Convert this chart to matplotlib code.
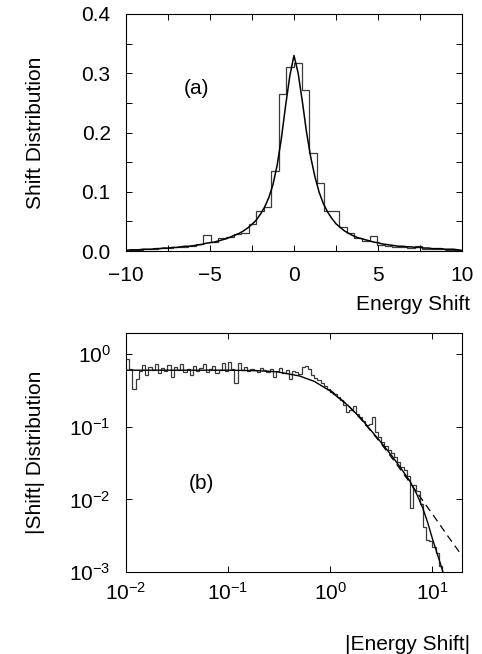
import numpy as np
import matplotlib
matplotlib.use("Agg")
import matplotlib.pyplot as plt
from matplotlib.ticker import MultipleLocator, LogLocator, NullLocator

plt.rcParams['font.family'] = ['Liberation Sans', 'DejaVu Sans']
plt.rcParams['mathtext.fontset'] = 'custom'
plt.rcParams['mathtext.rm'] = 'Liberation Sans'
plt.rcParams['mathtext.it'] = 'Liberation Sans:italic'

# ---------------- panel (a) data ----------------
# smooth (fine) distribution, sampled every 0.25 from -10 to 10
curve_a_x = np.linspace(-10, 10, 81)
curve_a_left = [0.001, 0.002, 0.002, 0.002, 0.003, 0.003, 0.003, 0.004, 0.004, 0.005,
                0.005, 0.006, 0.006, 0.007, 0.008, 0.008, 0.009, 0.010, 0.011, 0.013,
                0.014, 0.015, 0.017, 0.019, 0.021, 0.024, 0.027, 0.030, 0.034, 0.039,
                0.045, 0.052, 0.062, 0.074, 0.090, 0.112, 0.145, 0.190, 0.245, 0.295]
curve_a_center = [0.330]
curve_a_right = [0.300, 0.252, 0.200, 0.158, 0.125, 0.099, 0.080, 0.066, 0.055, 0.046,
                 0.040, 0.034, 0.030, 0.026, 0.023, 0.021, 0.019, 0.017, 0.015, 0.014,
                 0.012, 0.011, 0.010, 0.009, 0.008, 0.008, 0.007, 0.007, 0.006, 0.006,
                 0.005, 0.005, 0.004, 0.004, 0.004, 0.003, 0.003, 0.003, 0.002, 0.001]
curve_a_y = curve_a_left + curve_a_center + curve_a_right

# coarse histogram, bin width 0.45 from -9.9 to 9.9
hist_a_edges = np.linspace(-9.9, 9.9, 45)
hist_a_left = [0.002, 0.002, 0.003, 0.003, 0.005, 0.005, 0.006, 0.007, 0.009, 0.012,
               0.027, 0.016, 0.022, 0.023, 0.028, 0.030, 0.045, 0.068, 0.075, 0.135,
               0.265, 0.310]
hist_a_right = [0.317, 0.271, 0.166, 0.115, 0.068, 0.068, 0.040, 0.030, 0.022, 0.017,
                0.026, 0.010, 0.008, 0.007, 0.006, 0.005, 0.008, 0.004, 0.003, 0.003,
                0.002, 0.001]
hist_a_vals = hist_a_left + hist_a_right

# ---------------- panel (b) data ----------------
hist_b_edges = np.logspace(-2, -2 + 100 * 0.03125, 101)
hist_b_vals = [
    # 0.01 - 0.1
    0.85, 0.62, 0.33, 0.45, 0.58, 0.70, 0.52, 0.66, 0.61, 0.72, 0.55, 0.64, 0.58, 0.70, 0.49, 0.66,
    0.60, 0.72, 0.56, 0.63, 0.52, 0.68, 0.59, 0.65, 0.74, 0.57, 0.62, 0.69, 0.55, 0.61, 0.75, 0.58,
    # 0.1 - 1
    0.78, 0.62, 0.40, 0.75, 0.60, 0.66, 0.58, 0.63, 0.61, 0.57, 0.65, 0.60, 0.56, 0.62, 0.48, 0.59,
    0.64, 0.55, 0.60, 0.46, 0.58, 0.57, 0.54, 0.66, 0.68, 0.62, 0.52, 0.47, 0.44, 0.40, 0.36, 0.33,
    # 1 - 10
    0.30, 0.28, 0.26, 0.23, 0.20, 0.16, 0.17, 0.19, 0.15, 0.135, 0.12, 0.105, 0.11, 0.135, 0.085, 0.072,
    0.062, 0.055, 0.048, 0.044, 0.038, 0.033, 0.028, 0.025, 0.021, 0.0075, 0.016, 0.013, 0.0085, 0.0042,
    0.0028, 0.0027,
    # 10 - 13.3
    0.0022, 0.0018, 0.0012, 0.0009]

smooth_b_x = [0.01, 0.03, 0.1, 0.2, 0.3, 0.5, 0.7, 1.0, 1.5, 2.0, 3.0, 4.0, 5.0, 6.0,
              7.0, 8.0, 9.0, 10.0, 11.0, 12.0, 13.0, 13.6]
smooth_b_y = [0.60, 0.60, 0.60, 0.59, 0.57, 0.50, 0.42, 0.31, 0.195, 0.13, 0.066, 0.040,
              0.026, 0.018, 0.012, 0.0078, 0.0048, 0.0029, 0.0019, 0.0013, 0.0009, 0.0006]

fit_b_x = [1.0, 1.5, 2.0, 3.0, 4.0, 5.0, 7.0, 10.0, 14.0, 20.0]
fit_b_y = [0.32, 0.196, 0.127, 0.064, 0.0375, 0.0245, 0.0127, 0.0063, 0.0032, 0.0016]

# ---------------- figure ----------------
fig = plt.figure(figsize=(4.82, 6.54), dpi=100)
ax1 = fig.add_axes([0.2614, 0.6162, 0.697, 0.3624])
ax2 = fig.add_axes([0.2614, 0.1254, 0.697, 0.3654])

hist_col = '#3a3a3a'
FS = 15

# panel (a)
ax1.stairs(hist_a_vals, hist_a_edges, color=hist_col, lw=0.9, baseline=None)
ax1.plot(curve_a_x, curve_a_y, color='black', lw=1.1)
ax1.set_xlim(-10, 10)
ax1.set_ylim(0, 0.4)
ax1.xaxis.set_major_locator(MultipleLocator(5))
ax1.xaxis.set_minor_locator(MultipleLocator(2.5))
ax1.yaxis.set_major_locator(MultipleLocator(0.1))
ax1.yaxis.set_minor_locator(MultipleLocator(0.05))
ax1.yaxis.set_major_formatter(matplotlib.ticker.FormatStrFormatter('%.1f'))
ax1.tick_params(which='both', direction='in', top=True, right=True, labelsize=FS)
ax1.tick_params(axis='y', pad=11)
ax1.tick_params(axis='x', pad=11)
ax1.tick_params(which='major', length=4, width=0.7)
ax1.tick_params(which='minor', length=4, width=0.7)
ax1.set_ylabel('Shift Distribution', fontsize=FS)
ax1.yaxis.set_label_coords(-0.24, 0.5)
ax1.set_xlabel('Energy Shift', fontsize=FS, loc='right')
ax1.xaxis.set_label_coords(1.025, -0.185)
ax1.text(-5.8, 0.275, '(a)', fontsize=FS, ha='center', va='center')

# panel (b)
ax2.stairs(hist_b_vals, hist_b_edges, color=hist_col, lw=0.9, baseline=None)
ax2.plot(smooth_b_x, smooth_b_y, color='black', lw=1.0)
ax2.plot(fit_b_x, fit_b_y, color='black', lw=0.9, ls=(0, (6, 4)))
ax2.set_xscale('log')
ax2.set_yscale('log')
ax2.set_xlim(0.01, 19.5)
ax2.set_ylim(1e-3, 1.95)
ax2.xaxis.set_major_locator(LogLocator(base=10, numticks=10))
ax2.yaxis.set_major_locator(LogLocator(base=10, numticks=10))
ax2.xaxis.set_minor_locator(NullLocator())
ax2.yaxis.set_minor_locator(NullLocator())
ax2.tick_params(which='both', direction='in', top=True, right=True, labelsize=FS)
ax2.tick_params(axis='y', pad=11)
ax2.tick_params(axis='x', pad=7)
ax2.tick_params(which='major', length=4, width=0.7)
ax2.set_ylabel('|Shift| Distribution', fontsize=FS)
ax2.yaxis.set_label_coords(-0.24, 0.5)
ax2.set_xlabel('|Energy Shift|', fontsize=FS, loc='right')
ax2.xaxis.set_label_coords(1.025, -0.262)
ax2.text(0.055, 0.0166, '(b)', fontsize=FS, ha='center', va='center')

for ax in (ax1, ax2):
    for s in ax.spines.values():
        s.set_linewidth(0.8)

fig.savefig('out.png', dpi=100)
